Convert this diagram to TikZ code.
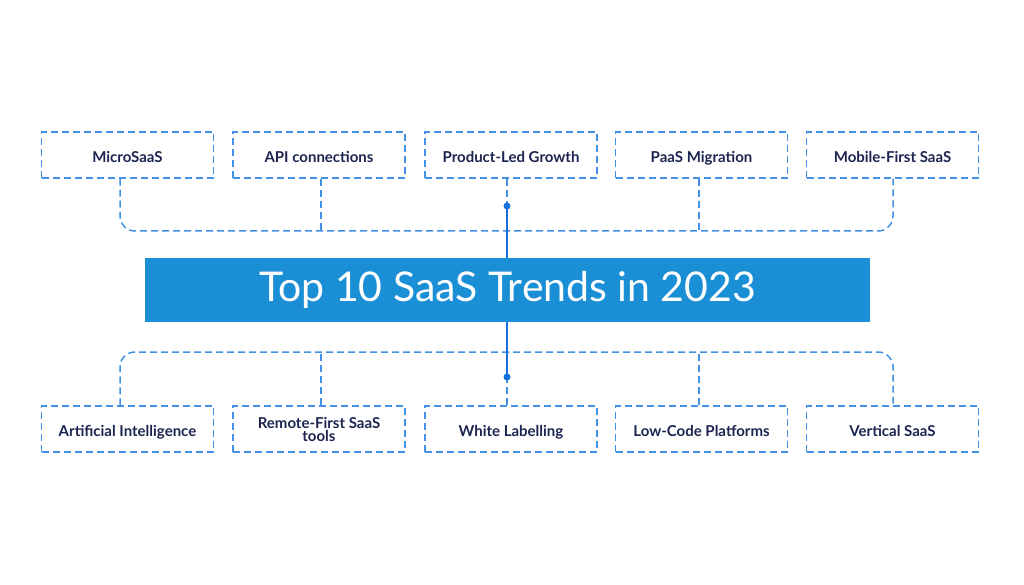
\documentclass[tikz,border=0pt]{standalone}
\usepackage{fontspec}
\setmainfont{Lato}
\usepackage{tikz}
\usetikzlibrary{positioning}

\definecolor{trendblue}{RGB}{27,143,214}
\definecolor{dashblue}{RGB}{66,145,230}
\definecolor{stemblue}{RGB}{24,112,222}
\definecolor{labelnavy}{RGB}{28,36,80}

\tikzset{
	trend/.style = {draw=dashblue, line width=1.5pt, dash pattern=on 7pt off 4pt,
		minimum width=172, minimum height=46, inner sep=0pt, align=center,
		font=\bfseries\fontsize{15}{13}\selectfont, text=labelnavy},
	oneline/.style = {text height=15, text depth=0},
	link/.style = {draw=dashblue, line width=1.5pt, dash pattern=on 7pt off 4pt},
	stem/.style = {draw=stemblue, line width=2pt}
}

\begin{document}
\begin{tikzpicture}[x=1pt, y=-1pt]
	\useasboundingbox (0,0) rectangle (1024,585);
	% top row
	\node[trend, oneline] (micro) at (127.5,155) {MicroSaaS};
	\node[trend, oneline] (api) at (319,155) {API connections};
	\node[trend, oneline] (plg) at (511,155) {Product-Led Growth};
	\node[trend, oneline] (paas) at (701.5,155) {PaaS Migration};
	\node[trend, oneline] (mobile) at (892.5,155) {Mobile-First SaaS};
	% bottom row
	\node[trend, oneline] (ai) at (127.5,429) {Artificial Intelligence};
	\node[trend] (remote) at (319,429) {Remote-First SaaS\\tools};
	\node[trend, oneline] (white) at (511,429) {White Labelling};
	\node[trend, oneline] (lowcode) at (701.5,429) {Low-Code Platforms};
	\node[trend, oneline] (vertical) at (892.5,429) {Vertical SaaS};
	% title
	\node[fill=trendblue, minimum width=725, minimum height=64, inner sep=0pt,
		text=white, font=\fontsize{41}{42}\selectfont] (title) at (507.5,290) {Top 10 SaaS Trends in 2023};

	\coordinate (tbus) at (507,231);
	\coordinate (bbus) at (507,352);
	\coordinate (tdot) at (507,206);
	\coordinate (bdot) at (507,377);

	% upper connectors
	\draw[link, rounded corners=15] ([xshift=-7.5]micro.south) |- (tbus) -| ([xshift=0.5]mobile.south);
	\draw[link] ([xshift=2]api.south) -- ([xshift=2]api.south |- tbus);
	\draw[link] ([xshift=-2.5]paas.south) -- ([xshift=-2.5]paas.south |- tbus);
	\draw[link] (plg.south -| tdot) -- (tdot);
	% lower connectors
	\draw[link, rounded corners=15] ([xshift=-7.5]ai.north) |- (bbus) -| ([xshift=0.5]vertical.north);
	\draw[link] ([xshift=2]remote.north) -- ([xshift=2]remote.north |- bbus);
	\draw[link] ([xshift=-2.5]lowcode.north) -- ([xshift=-2.5]lowcode.north |- bbus);
	\draw[link] (white.north -| bdot) -- (bdot);
	% stem
	\draw[stem] (tdot) -- (title.north -| tdot);
	\draw[stem] (title.south -| bdot) -- (bdot);
	\fill[stemblue] (tdot) circle (3.5);
	\fill[stemblue] (bdot) circle (3.5);
\end{tikzpicture}
\end{document}
